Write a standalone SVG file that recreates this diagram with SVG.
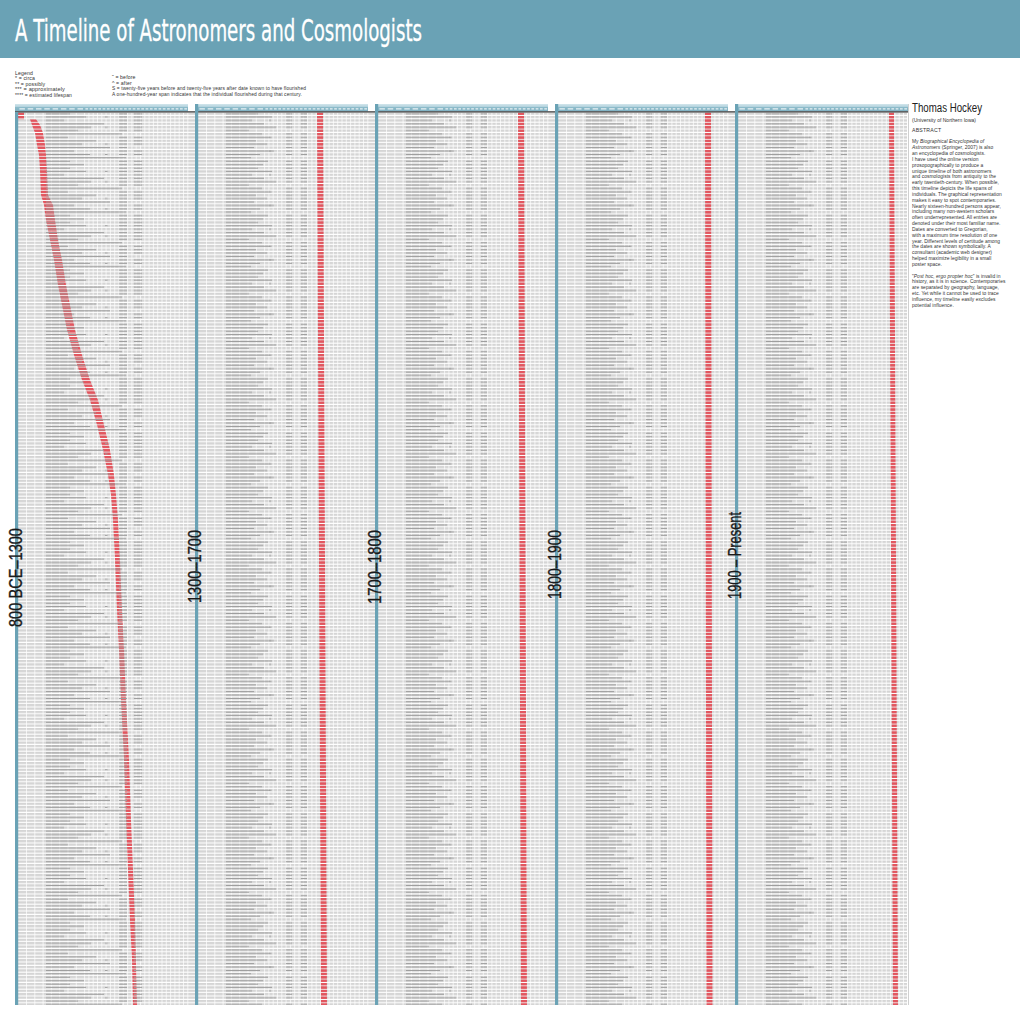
<svg xmlns="http://www.w3.org/2000/svg" width="1020" height="1020" viewBox="0 0 1020 1020">
<style>
.t{font-family:"Liberation Sans",Arial,sans-serif;fill:#333}
.lg{font-size:5.2px;letter-spacing:0.12px}
.ab{font-size:4.9px;letter-spacing:0.05px}
.era{font-family:"Liberation Sans",Arial,sans-serif;font-size:18px;fill:#1a1a1a;stroke:#1a1a1a;stroke-width:0.35}
.bar{fill:#6aa2b5}
.hd{fill:url(#hdg)}
.ph{stroke:#9d9d9d;stroke-width:1;fill:none}
</style>
<defs>
<linearGradient id="hdg" x1="0" y1="0" x2="0" y2="1">
<stop offset="0" stop-color="#d3e6ec"/><stop offset="0.4" stop-color="#b0d1dc"/><stop offset="0.45" stop-color="#8dbbca"/><stop offset="1" stop-color="#80b2c3"/>
</linearGradient>
<pattern id="rows" patternUnits="userSpaceOnUse" x="0" y="112.5" width="20" height="3.4"><rect width="20" height="2.3" fill="#d5d5d5"/></pattern>
<pattern id="grid" patternUnits="userSpaceOnUse" x="15" y="0" width="180" height="20">
<path d="M11.5 0V20M19.8 0V20M28.1 0V20M36.4 0V20M44.7 0V20M53 0V20M61.3 0V20M69.6 0V20M73.9 0V20M78.2 0V20M82.5 0V20M86.8 0V20M91.1 0V20M95.4 0V20M99.7 0V20M104 0V20M108.3 0V20M112.6 0V20M116.9 0V20M121.2 0V20M125.5 0V20M129.8 0V20M134.1 0V20M138.4 0V20M142.7 0V20M147 0V20M151.3 0V20M155.6 0V20M159.9 0V20M164.2 0V20M168.5 0V20M172.8 0V20" stroke="#fff" stroke-width="0.7"/>
</pattern>
<pattern id="hlab" patternUnits="userSpaceOnUse" x="15" y="104" width="180" height="8">
<path d="M4.4 4.9h5.5M12.7 4.9h5.5M21 4.9h5.5M29.3 4.9h5.5M37.6 4.9h5.5M45.9 4.9h5.5M54.2 4.9h5.5M62.5 4.9h5.5M70.4 4.9h2.7M74.7 4.9h2.7M79 4.9h2.7M83.3 4.9h2.7M87.6 4.9h2.7M91.9 4.9h2.7M96.2 4.9h2.7M100.5 4.9h2.7M104.8 4.9h2.7M109.1 4.9h2.7M113.4 4.9h2.7M117.7 4.9h2.7M122 4.9h2.7M126.3 4.9h2.7M130.6 4.9h2.7M134.9 4.9h2.7M139.2 4.9h2.7M143.5 4.9h2.7M147.8 4.9h2.7M152.1 4.9h2.7M156.4 4.9h2.7M160.7 4.9h2.7M165 4.9h2.7M169.3 4.9h2.7" stroke="#fff" stroke-opacity="0.8" stroke-width="1.4"/>
</pattern>
<pattern id="red" patternUnits="userSpaceOnUse" x="0" y="112.5" width="20" height="3.4"><rect width="20" height="2.5" fill="#e2555e"/></pattern>
<pattern id="n1" patternUnits="userSpaceOnUse" x="15" y="112.5" width="180" height="54.4">
<path class="ph" d="M31 1.15h24M31 4.55h40M31 7.95h18M31 11.35h58M31 14.75h45M31 18.15h32M31 21.55h76M31 24.95h22M31 28.35h50M31 31.75h36M31 35.15h64M31 38.55h28M31 41.95h44M31 45.35h80M31 48.75h24M31 52.15h38"/>
<path class="ph" d="M90 4.55h2.5M90 14.75h2.5M90 31.75h2.5M90 41.95h2.5"/>
<path class="ph" d="M104 1.15h8M119 1.15h8M104 4.55h8M119 4.55h8M104 7.95h8M119 7.95h8M104 11.35h8M119 11.35h8M104 14.75h8M119 14.75h8M104 18.15h8M119 18.15h8M104 24.95h8M119 24.95h8M104 28.35h8M119 28.35h8M104 31.75h8M119 31.75h8M104 35.15h8M104 38.55h8M119 38.55h8M104 41.95h8M119 41.95h8M104 48.75h8M119 48.75h8M104 52.15h8M119 52.15h8"/>
</pattern>
<pattern id="n2" patternUnits="userSpaceOnUse" x="15" y="112.5" width="180" height="54.4">
<path class="ph" d="M31 1.15h32M31 4.55h46M31 7.95h26M31 11.35h38M31 14.75h50M31 18.15h23M31 21.55h36M31 24.95h44M31 28.35h30M31 31.75h41M31 35.15h28M31 38.55h48M31 41.95h34M31 45.35h25M31 48.75h42M31 52.15h37"/>
<path class="ph" d="M74 7.95h2M74 24.95h2.5M74 38.55h2"/>
<path class="ph" d="M91 1.15h6M106 1.15h6M91 4.55h6M106 4.55h6M91 7.95h6M106 7.95h6M91 11.35h6M106 11.35h6M91 14.75h6M106 14.75h6M91 21.55h6M106 21.55h6M91 24.95h6M106 24.95h6M91 28.35h6M106 28.35h6M91 31.75h6M106 31.75h6M91 35.15h6M106 35.15h6M91 38.55h6M106 38.55h6M91 41.95h6M106 41.95h6M91 48.75h6M106 48.75h6M91 52.15h6M106 52.15h6"/>
</pattern>
</defs>
<rect width="1020" height="1020" fill="#fff"/>
<g id="title">
<rect x="0" y="0" width="1020" height="58" fill="#6aa2b5"/>
<text x="15" y="41" font-family="'Liberation Sans Narrow','DejaVu Sans Condensed','Liberation Sans',sans-serif" font-size="31" fill="#fff" stroke="#fff" stroke-width="0.3" textLength="407" lengthAdjust="spacingAndGlyphs">A Timeline of Astronomers and Cosmologists</text>
</g>
<g id="legend" class="t lg">
<text x="15" y="74.8">Legend</text>
<text x="15" y="80.3">* = circa</text>
<text x="15" y="85.7">** = possibly</text>
<text x="15" y="91.3" textLength="50" lengthAdjust="spacingAndGlyphs">*** = approximately</text>
<text x="15" y="96.9" textLength="57" lengthAdjust="spacingAndGlyphs">**** = estimated lifespan</text>
<text x="112" y="79.3">˜ = before</text>
<text x="112" y="84.8">^ = after</text>
<text x="112" y="90.4" textLength="194" lengthAdjust="spacingAndGlyphs">S = twenty-five years before and twenty-five years after date known to have flourished</text>
<text x="112" y="96" textLength="190" lengthAdjust="spacingAndGlyphs">A one-hundred-year span indicates that the individual flourished during that century.</text>
</g>
<g id="table">
<rect x="15" y="112.5" width="892" height="892.5" fill="url(#rows)"/>
<rect x="15" y="112.5" width="892" height="892.5" fill="url(#grid)"/>
<rect x="908" y="104" width="1" height="901" fill="#d0d0d0"/>
<g id="lifespans">
<polygon fill="url(#red)" points="18,112.5 24,112.5 24,119.3 36,119.3 40,125 43,133 45,145 46,155 47,170 48,195 53,205 55,220 58,240 62,260 66,285 70,305 75,330 82,355 90,380 98,400 104,425 110,450 114,475 116,495 118,520 120,560 122,610 124,650 126,700 129,760 131,820 133,870 135,920 136,960 137,1005 133,1005 132,960 130,920 128,870 126,820 124,760 121,700 119,650 117,610 115,560 113,520 111,495 108,475 103,450 97,425 90,400 82,380 74,355 67,330 62,305 58,285 54,260 50,240 46,220 44,205 41,195 40,170 39,155 37,145 35,133 32,125 30,119.3 18,119.3"/>
<polygon fill="url(#red)" points="317,112.5 323,112.5 327,1005 321,1005"/>
<polygon fill="url(#red)" points="518,112.5 524,112.5 527,1005 521,1005"/>
<polygon fill="url(#red)" points="705,112.5 711,112.5 712.5,1005 706.5,1005"/>
<polygon fill="url(#red)" points="889,112.5 894,112.5 898,1005 893,1005"/>
</g>
<rect x="15" y="112.5" width="180" height="892.5" fill="url(#n1)"/>
<rect x="195" y="112.5" width="712" height="892.5" fill="url(#n2)"/>
</g>
<g id="headers">
<rect class="hd" x="15" y="104" width="173" height="7.3"/>
<rect class="hd" x="195" y="104" width="173" height="7.3"/>
<rect class="hd" x="375" y="104" width="173" height="7.3"/>
<rect class="hd" x="555" y="104" width="173" height="7.3"/>
<rect class="hd" x="735" y="104" width="173" height="7.3"/>
<rect x="15" y="104" width="173" height="7.3" fill="url(#hlab)"/>
<rect x="195" y="104" width="173" height="7.3" fill="url(#hlab)"/>
<rect x="375" y="104" width="173" height="7.3" fill="url(#hlab)"/>
<rect x="555" y="104" width="173" height="7.3" fill="url(#hlab)"/>
<rect x="735" y="104" width="173" height="7.3" fill="url(#hlab)"/>
<rect x="15" y="111.3" width="893" height="1.2" fill="#2b2b2b"/>
</g>
<g id="panelbars">
<rect class="bar" x="15" y="112" width="3.2" height="893"/>
<rect class="bar" x="195" y="104" width="3.2" height="901"/>
<rect class="bar" x="375" y="104" width="3.2" height="901"/>
<rect class="bar" x="555" y="104" width="3.2" height="901"/>
<rect class="bar" x="735" y="104" width="3.2" height="901"/>
</g>
<g id="eras">
<text class="era" transform="translate(22,627) rotate(-90)" textLength="99" lengthAdjust="spacingAndGlyphs">800 BCE–1300</text>
<text class="era" transform="translate(201,603) rotate(-90)" textLength="73" lengthAdjust="spacingAndGlyphs">1300–1700</text>
<text class="era" transform="translate(381,604) rotate(-90)" textLength="74" lengthAdjust="spacingAndGlyphs">1700–1800</text>
<text class="era" transform="translate(561,599) rotate(-90)" textLength="69" lengthAdjust="spacingAndGlyphs">1800–1900</text>
<text class="era" transform="translate(741,599) rotate(-90)" textLength="87" lengthAdjust="spacingAndGlyphs">1900 – Present</text>
</g>
<g id="abstract" class="t">
<text x="912" y="112" font-size="12" fill="#222" textLength="70" lengthAdjust="spacingAndGlyphs">Thomas Hockey</text>
<text x="912" y="121.5" font-size="5.4" textLength="64" lengthAdjust="spacingAndGlyphs">(University of Northern Iowa)</text>
<text x="912" y="132.3" font-size="5.2" letter-spacing="0.2">ABSTRACT</text>
<text class="ab" x="912" y="143.3">
<tspan x="912" y="143.3">My <tspan font-style="italic">Biographical Encyclopedia of</tspan></tspan>
<tspan x="912" y="149.14"><tspan font-style="italic">Astronomers</tspan> (Springer, 2007) is also</tspan>
<tspan x="912" y="154.98">an encyclopedia of cosmologists.</tspan>
<tspan x="912" y="160.82">I have used the online version</tspan>
<tspan x="912" y="166.66">prosopographically to produce a</tspan>
<tspan x="912" y="172.5">unique timeline of both astronomers</tspan>
<tspan x="912" y="178.34">and cosmologists from antiquity to the</tspan>
<tspan x="912" y="184.18">early twentieth-century. When possible,</tspan>
<tspan x="912" y="190.02">this timeline depicts the life spans of</tspan>
<tspan x="912" y="195.86">individuals. The graphical representation</tspan>
<tspan x="912" y="201.7">makes it easy to spot contemporaries.</tspan>
<tspan x="912" y="207.54">Nearly sixteen-hundred persons appear,</tspan>
<tspan x="912" y="213.38">including many non-western scholars</tspan>
<tspan x="912" y="219.22">often underrepresented. All entries are</tspan>
<tspan x="912" y="225.06">denoted under their most familiar name.</tspan>
<tspan x="912" y="230.9">Dates are converted to Gregorian,</tspan>
<tspan x="912" y="236.74">with a maximum time resolution of one</tspan>
<tspan x="912" y="242.58">year. Different levels of certitude among</tspan>
<tspan x="912" y="248.42">the dates are shown symbolically. A</tspan>
<tspan x="912" y="254.26">consultant (academic web designer)</tspan>
<tspan x="912" y="260.1">helped maximize legibility in a small</tspan>
<tspan x="912" y="265.94">poster space.</tspan>
<tspan x="912" y="277.62">"<tspan font-style="italic">Post hoc, ergo propter hoc</tspan>" is invalid in</tspan>
<tspan x="912" y="283.46">history, as it is in science. Contemporaries</tspan>
<tspan x="912" y="289.3">are separated by geography, language,</tspan>
<tspan x="912" y="295.14">etc. Yet while it cannot be used to trace</tspan>
<tspan x="912" y="300.98">influence, my timeline easily excludes</tspan>
<tspan x="912" y="306.82">potential influence.</tspan>
</text>
</g>
</svg>
